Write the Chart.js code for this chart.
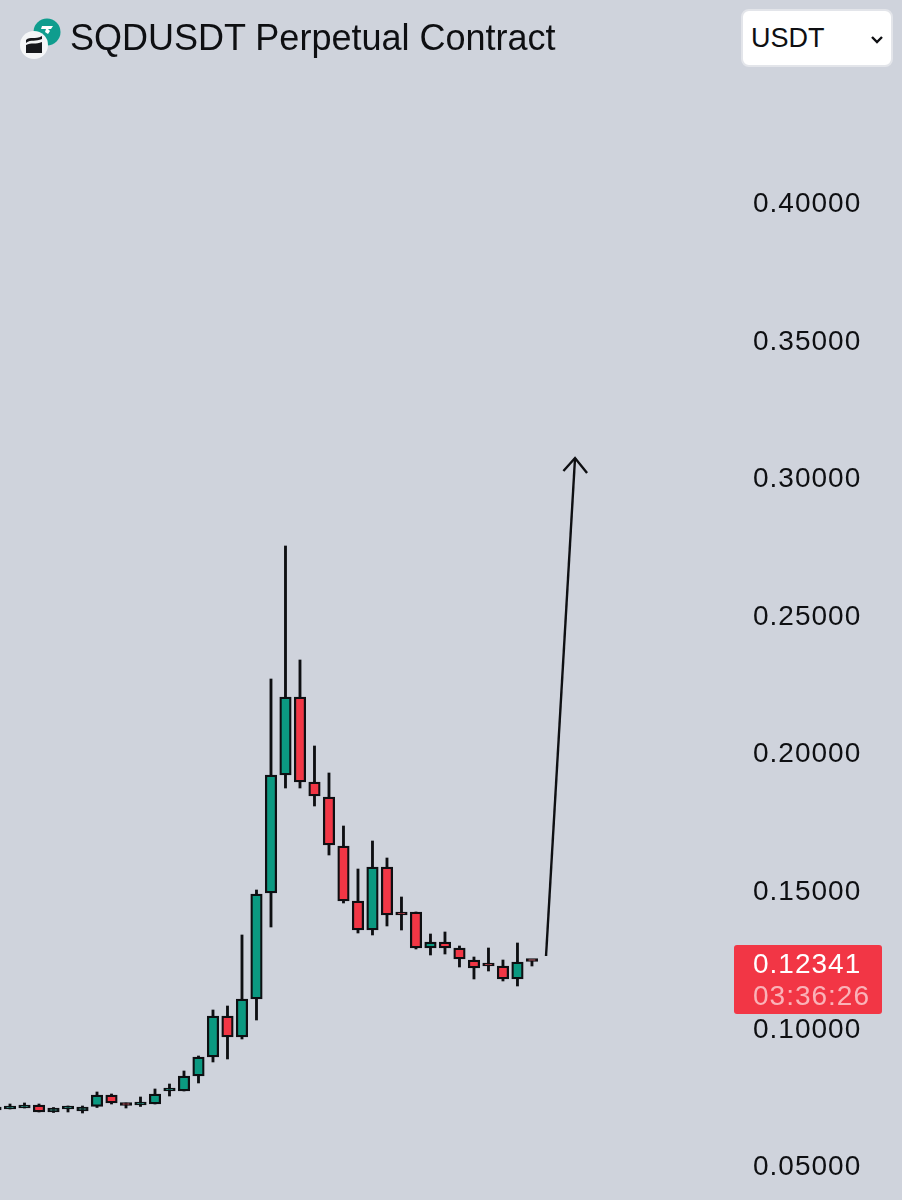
<!DOCTYPE html>
<html>
<head>
<meta charset="utf-8">
<title>SQDUSDT Perpetual Contract</title>
<script src="https://cdn.jsdelivr.net/npm/chart.js@4"></script>
<style>
    html, body { margin: 0; padding: 0; background: #cfd3dc; }
    #wrap { position: relative; width: 902px; height: 1200px; overflow: hidden; font-family: "Liberation Sans", sans-serif; }
    #price-chart { display: block; position: absolute; left: 0; top: 0; }
    #title { position: absolute; left: 70px; top: 16px; font-size: 36px; line-height: 44px; color: #0e0f12; white-space: nowrap; }
    #logo { position: absolute; left: 18px; top: 16px; }
    #unit { position: absolute; left: 741px; top: 9px; width: 152px; height: 58px; box-sizing: border-box; background: #fff; border: 2px solid #e3e5ea; border-radius: 8px; font-size: 27px; line-height: 54px; padding-left: 8px; color: #0e0f12; }
    #unit svg { position: absolute; right: 7px; top: 24px; }
</style>
</head>
<body>
<div id="wrap">
    <canvas id="price-chart" width="902" height="1200"></canvas>
    <svg id="logo" width="46" height="46" viewBox="0 0 46 46">
        <circle cx="29" cy="16" r="13.5" fill="#0f9d8e"/>
        <path d="M24 10h11l-2 3h-3l2 2-2 3-3-2 1-3h-5z" fill="#fff"/>
        <circle cx="16" cy="29" r="14" fill="#f4f5f7"/>
        <path d="M8 24c4-4 9 0 16-4v3c-6 3-11 0-16 4zM8 29c5-3 10 0 16-3v11H8z" fill="#17181c"/>
    </svg>
    <div id="title">SQDUSDT Perpetual Contract</div>
    <div id="unit">USDT
        <svg width="14" height="10" viewBox="0 0 14 10"><path d="M2 2l5 5 5-5" fill="none" stroke="#0e0f12" stroke-width="2.4"/></svg>
    </div>
</div>
<script>
// Candle values, left to right
const openPrices = [0.07035, 0.07072, 0.07108, 0.07217, 0.06963, 0.07072, 0.06999, 0.07163, 0.07580, 0.07290, 0.07217, 0.07253, 0.07726, 0.07726, 0.08271, 0.08962, 0.10452, 0.09689, 0.11070, 0.14922, 0.19211, 0.22046, 0.18956, 0.18411, 0.16630, 0.14631, 0.13577, 0.15867, 0.14232, 0.14232, 0.12923, 0.13141, 0.12923, 0.12487, 0.12305, 0.12269, 0.11797, 0.12451];
const closePrices = [0.07108, 0.07072, 0.07217, 0.06963, 0.07108, 0.07108, 0.07144, 0.07580, 0.07290, 0.07199, 0.07253, 0.07617, 0.07762, 0.08271, 0.08962, 0.10452, 0.09689, 0.11070, 0.14886, 0.19211, 0.22046, 0.18956, 0.18448, 0.16667, 0.14631, 0.13577, 0.15867, 0.14123, 0.14123, 0.12923, 0.13141, 0.12923, 0.12523, 0.12196, 0.12269, 0.11797, 0.12414, 0.12433];
const highPrices = [0.07108, 0.07253, 0.07290, 0.07253, 0.07126, 0.07181, 0.07181, 0.07690, 0.07617, 0.07290, 0.07508, 0.07799, 0.07980, 0.08453, 0.08998, 0.10670, 0.10815, 0.13396, 0.15031, 0.22700, 0.27534, 0.23391, 0.20265, 0.19284, 0.17357, 0.15794, 0.16812, 0.16194, 0.14777, 0.14232, 0.13432, 0.13505, 0.12996, 0.12596, 0.12923, 0.12487, 0.13105, 0.12451];
const lowPrices = [0.07035, 0.07072, 0.07108, 0.06963, 0.06944, 0.06963, 0.06926, 0.07126, 0.07253, 0.07108, 0.07163, 0.07253, 0.07544, 0.07726, 0.08017, 0.08780, 0.08889, 0.09616, 0.10306, 0.13686, 0.18738, 0.18738, 0.18084, 0.16303, 0.14559, 0.13468, 0.13396, 0.13723, 0.13577, 0.12887, 0.12669, 0.12705, 0.12233, 0.11797, 0.12087, 0.11724, 0.11542, 0.12269];

// Hand drawn arrow, in candle number and price
const arrowShaftX = [37.97, 39.97];
const arrowShaftY = [0.12632, 0.30732];
const arrowHeadX = [39.17, 39.97, 40.8];
const arrowHeadY = [0.30260, 0.30732, 0.30187];

const tickValues = [0.05, 0.10, 0.15, 0.20, 0.25, 0.30, 0.35, 0.40];
const lastPrice = 0.12341;
const countdown = '03:36:26';

const GREEN = '#0b9981';
const RED = '#f23645';
const INK = '#0e0f12';
const FONT = '"Liberation Sans", sans-serif';

const candleNumbers = openPrices.map((v, i) => i);

// Draws the last price tag on top of the price axis
const priceTagPlugin = {
    id: 'priceTag',
    beforeDraw(chart) {
        chart.ctx.letterSpacing = '1px';
    },
    afterDraw(chart) {
        const ctx = chart.ctx;
        const y = chart.scales.y.getPixelForValue(lastPrice);
        ctx.save();
        ctx.fillStyle = RED;
        ctx.beginPath();
        ctx.roundRect(734, y - 19, 148, 69, 3);
        ctx.fill();
        ctx.font = '28px ' + FONT;
        ctx.textBaseline = 'middle';
        ctx.textAlign = 'left';
        ctx.fillStyle = '#ffffff';
        ctx.fillText(lastPrice.toFixed(5), 753, y + 1.5);
        ctx.fillStyle = 'rgba(255,255,255,0.62)';
        ctx.fillText(countdown, 753, y + 33.5);
        ctx.restore();
    }
};

new Chart(document.getElementById('price-chart').getContext('2d'), {
    data: {
        datasets: [
            {
                type: 'bar',
                order: 2,
                data: candleNumbers.map(i => ({ x: i, y: [lowPrices[i], highPrices[i]] })),
                backgroundColor: INK,
                barThickness: 2.2,
                borderWidth: 0,
                grouped: false
            },
            {
                type: 'bar',
                order: 1,
                data: candleNumbers.map(i => ({ x: i, y: [openPrices[i], closePrices[i]] })),
                backgroundColor: candleNumbers.map(i => closePrices[i] >= openPrices[i] ? GREEN : RED),
                borderColor: INK,
                borderWidth: 2.3,
                borderSkipped: false,
                barThickness: 11.5,
                minBarLength: 3,
                grouped: false
            },
            {
                type: 'line',
                order: 0,
                data: arrowShaftX.map((x, i) => ({ x: x, y: arrowShaftY[i] })),
                borderColor: INK,
                borderWidth: 2.4,
                pointRadius: 0,
                tension: 0
            },
            {
                type: 'line',
                order: 0,
                data: arrowHeadX.map((x, i) => ({ x: x, y: arrowHeadY[i] })),
                borderColor: INK,
                borderWidth: 2.4,
                pointRadius: 0,
                tension: 0
            }
        ]
    },
    options: {
        responsive: false,
        animation: false,
        layout: { padding: 0 },
        plugins: {
            legend: { display: false },
            tooltip: { enabled: false }
        },
        scales: {
            x: {
                type: 'linear',
                display: false,
                min: 0.31,
                max: 51.9,
                offset: false
            },
            y: {
                position: 'right',
                min: 0.03764,
                max: 0.47378,
                // no room for half labels, the plot fills the whole canvas height
                afterFit: scale => {
                    scale.width = 154;
                    scale.paddingTop = 0;
                    scale.paddingBottom = 0;
                },
                afterBuildTicks: scale => { scale.ticks = tickValues.map(v => ({ value: v })); },
                grid: { display: false, drawTicks: false },
                border: { display: false },
                ticks: {
                    padding: 5,
                    labelOffset: 1.5,
                    color: INK,
                    font: { family: FONT, size: 28 },
                    callback: value => value.toFixed(5)
                }
            }
        }
    },
    plugins: [priceTagPlugin]
});
</script>
</body>
</html>
